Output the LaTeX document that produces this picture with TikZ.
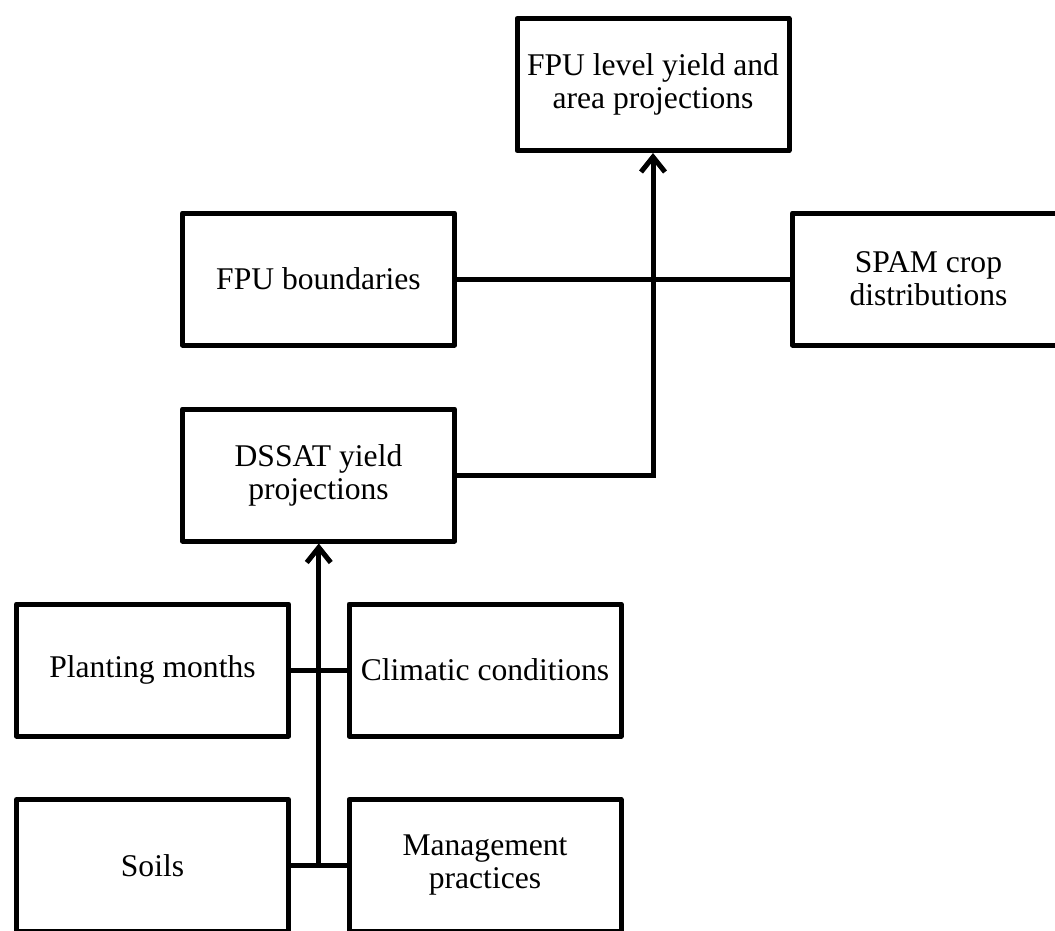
\documentclass[tikz,border=0pt]{standalone}
\usepackage{fontspec}
\setmainfont{Liberation Serif}
\usepackage{tikz}
\usetikzlibrary{arrows.meta,calc}

\begin{document}
\begin{tikzpicture}[
x=0.5pt, y=-0.5pt,
box/.style={draw, line width=2.5pt, line join=round, minimum width=136pt, minimum height=66pt, inner sep=2pt, align=center, font=\fontsize{15.8}{16.5}\selectfont},
conn/.style={line width=2.5pt},
arrow/.style={-{Straight Barb[length=7.5pt,width=12pt]}, line width=2.5pt} ]

\useasboundingbox (0,0) rectangle (1055,931);

\node[box] (L) at (653,84.5) {FPU level yield and\\area projections};

\node[box] (B) at (318.5,279) {FPU boundaries};

\node[box] (S) at (928.5,279) {SPAM crop\\distributions};

\node[box] (D) at (318.5,475) {DSSAT yield\\projections};

\node[box] (P) at (152.5,670) {Planting months};

\node[box] (C) at (485,670) {Climatic conditions};

\node[box] (O) at (152.5,865.5) {Soils};

\node[box] (M) at (485,865.5) {Management\\practices};

\draw[conn] (O) -- coordinate[midway] (J) (M);

\draw[conn] (P) -- (C);

\draw[arrow] (J) -- (J |- D.south);

\draw[conn] (B) -- (S);

\draw[arrow] (D.east) -| (L.south);

\end{tikzpicture}
\end{document}
